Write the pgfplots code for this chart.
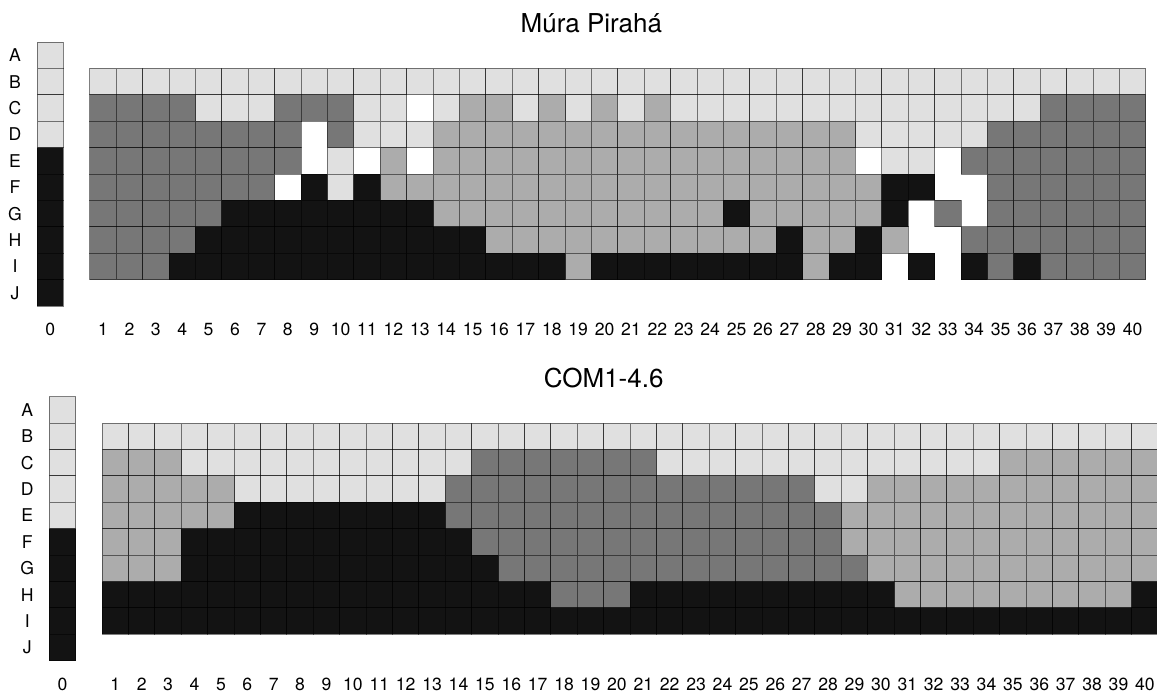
\documentclass[border=0pt]{standalone}
\usepackage{fontspec}
\setmainfont{TeX Gyre Heros}
\usepackage{pgfplots}
\pgfplotsset{compat=1.18}
\definecolor{cL}{RGB}{224,224,224}
\definecolor{cM}{RGB}{172,172,172}
\definecolor{cD}{RGB}{119,119,119}
\definecolor{cK}{RGB}{19,19,19}
\pgfplotsset{
  every axis title/.style={at={(0.5,1)}, anchor=base, yshift=4.6pt, font=\fontsize{13pt}{15pt}\selectfont},
  cellgrid/.style={
    scale only axis, width=554.4pt, height=132pt,
    xmin=-1.5, xmax=40.5, ymin=0.5, ymax=10.5,
    axis line style={draw=none}, major tick length=0pt,
    xtick={-1,1,2,...,40},
    xticklabels={0,1,2,3,4,5,6,7,8,9,10,11,12,13,14,15,16,17,18,19,20,21,22,23,24,25,26,27,28,29,30,31,32,33,34,35,36,37,38,39,40},
    ytick={1,2,3,4,5,6,7,8,9,10},
    yticklabels={J,I,H,G,F,E,D,C,B,A},
    xticklabel style={anchor=center, yshift=-11.75pt},
    yticklabel style={anchor=center, xshift=-11pt},
    tick label style={font=\fontsize{8.8pt}{10pt}\selectfont},
    /pgf/number format/assume math mode=true,
    clip=false,
  },
  cell/.style={only marks, mark=square*, mark size=6.6pt,
    mark options={fill=#1, draw=black, draw opacity=0.5, line width=0.5pt}},
}
\begin{document}
\begin{tikzpicture}
% ================= top panel: Múra Pirahá =================
% rows: A=10, B=9, C=8, D=7, E=6, F=5, G=4, H=3, I=2, J=1; column 0 drawn at x=-1; white cells are empty
\begin{axis}[cellgrid, at={(18.5pt,193.5pt)}, anchor=south west, title={Múra Pirahá}]
% light grey
\addplot[cell=cL] coordinates {
(-1,10) (-1,9) (-1,8) (-1,7)
(1,9) (2,9) (3,9) (4,9) (5,9) (6,9) (7,9) (8,9) (9,9) (10,9) (11,9) (12,9) (13,9) (14,9) (15,9) (16,9) (17,9) (18,9) (19,9) (20,9)
(21,9) (22,9) (23,9) (24,9) (25,9) (26,9) (27,9) (28,9) (29,9) (30,9) (31,9) (32,9) (33,9) (34,9) (35,9) (36,9) (37,9) (38,9) (39,9) (40,9)
(5,8) (6,8) (7,8) (11,8) (12,8) (14,8) (17,8) (19,8) (21,8) (23,8) (24,8) (25,8) (26,8) (27,8) (28,8) (29,8) (30,8) (31,8) (32,8) (33,8) (34,8) (35,8) (36,8)
(11,7) (12,7) (13,7) (30,7) (31,7) (32,7) (33,7) (34,7)
(10,6) (31,6) (32,6)
(10,5)
};
% medium grey
\addplot[cell=cM] coordinates {
(15,8) (16,8) (18,8) (20,8) (22,8)
(14,7) (15,7) (16,7) (17,7) (18,7) (19,7) (20,7) (21,7) (22,7) (23,7) (24,7) (25,7) (26,7) (27,7) (28,7) (29,7)
(12,6) (14,6) (15,6) (16,6) (17,6) (18,6) (19,6) (20,6) (21,6) (22,6) (23,6) (24,6) (25,6) (26,6) (27,6) (28,6) (29,6)
(12,5) (13,5) (14,5) (15,5) (16,5) (17,5) (18,5) (19,5) (20,5) (21,5) (22,5) (23,5) (24,5) (25,5) (26,5) (27,5) (28,5) (29,5) (30,5)
(14,4) (15,4) (16,4) (17,4) (18,4) (19,4) (20,4) (21,4) (22,4) (23,4) (24,4) (26,4) (27,4) (28,4) (29,4) (30,4)
(16,3) (17,3) (18,3) (19,3) (20,3) (21,3) (22,3) (23,3) (24,3) (25,3) (26,3) (28,3) (29,3) (31,3)
(19,2) (28,2)
};
% dark grey
\addplot[cell=cD] coordinates {
(1,8) (2,8) (3,8) (4,8) (8,8) (9,8) (10,8) (37,8) (38,8) (39,8) (40,8)
(1,7) (2,7) (3,7) (4,7) (5,7) (6,7) (7,7) (8,7) (10,7) (35,7) (36,7) (37,7) (38,7) (39,7) (40,7)
(1,6) (2,6) (3,6) (4,6) (5,6) (6,6) (7,6) (8,6) (34,6) (35,6) (36,6) (37,6) (38,6) (39,6) (40,6)
(1,5) (2,5) (3,5) (4,5) (5,5) (6,5) (7,5) (35,5) (36,5) (37,5) (38,5) (39,5) (40,5)
(1,4) (2,4) (3,4) (4,4) (5,4) (33,4) (35,4) (36,4) (37,4) (38,4) (39,4) (40,4)
(1,3) (2,3) (3,3) (4,3) (34,3) (35,3) (36,3) (37,3) (38,3) (39,3) (40,3)
(1,2) (2,2) (3,2) (35,2) (37,2) (38,2) (39,2) (40,2)
};
% black
\addplot[cell=cK] coordinates {
(-1,6) (-1,5) (-1,4) (-1,3) (-1,2) (-1,1)
(9,5) (11,5) (31,5) (32,5)
(6,4) (7,4) (8,4) (9,4) (10,4) (11,4) (12,4) (13,4) (25,4) (31,4)
(5,3) (6,3) (7,3) (8,3) (9,3) (10,3) (11,3) (12,3) (13,3) (14,3) (15,3) (27,3) (30,3)
(4,2) (5,2) (6,2) (7,2) (8,2) (9,2) (10,2) (11,2) (12,2) (13,2) (14,2) (15,2) (16,2) (17,2) (18,2)
(20,2) (21,2) (22,2) (23,2) (24,2) (25,2) (26,2) (27,2) (29,2) (30,2) (32,2) (34,2) (36,2)
};
\end{axis}
% ================= bottom panel: COM1-4.6 =================
\begin{axis}[cellgrid, at={(24.65pt,16.15pt)}, anchor=south west, title={COM1-4.6}]
\addplot[cell=cL] coordinates {
(-1,10) (-1,9) (-1,8) (-1,7) (-1,6)
(1,9) (2,9) (3,9) (4,9) (5,9) (6,9) (7,9) (8,9) (9,9) (10,9) (11,9) (12,9) (13,9) (14,9) (15,9) (16,9) (17,9) (18,9) (19,9) (20,9)
(21,9) (22,9) (23,9) (24,9) (25,9) (26,9) (27,9) (28,9) (29,9) (30,9) (31,9) (32,9) (33,9) (34,9) (35,9) (36,9) (37,9) (38,9) (39,9) (40,9)
(4,8) (5,8) (6,8) (7,8) (8,8) (9,8) (10,8) (11,8) (12,8) (13,8) (14,8)
(22,8) (23,8) (24,8) (25,8) (26,8) (27,8) (28,8) (29,8) (30,8) (31,8) (32,8) (33,8) (34,8)
(6,7) (7,7) (8,7) (9,7) (10,7) (11,7) (12,7) (13,7) (28,7) (29,7)
};
\addplot[cell=cM] coordinates {
(1,8) (2,8) (3,8) (35,8) (36,8) (37,8) (38,8) (39,8) (40,8)
(1,7) (2,7) (3,7) (4,7) (5,7) (30,7) (31,7) (32,7) (33,7) (34,7) (35,7) (36,7) (37,7) (38,7) (39,7) (40,7)
(1,6) (2,6) (3,6) (4,6) (5,6) (29,6) (30,6) (31,6) (32,6) (33,6) (34,6) (35,6) (36,6) (37,6) (38,6) (39,6) (40,6)
(1,5) (2,5) (3,5) (29,5) (30,5) (31,5) (32,5) (33,5) (34,5) (35,5) (36,5) (37,5) (38,5) (39,5) (40,5)
(1,4) (2,4) (3,4) (30,4) (31,4) (32,4) (33,4) (34,4) (35,4) (36,4) (37,4) (38,4) (39,4) (40,4)
(31,3) (32,3) (33,3) (34,3) (35,3) (36,3) (37,3) (38,3) (39,3)
};
\addplot[cell=cD] coordinates {
(15,8) (16,8) (17,8) (18,8) (19,8) (20,8) (21,8)
(14,7) (15,7) (16,7) (17,7) (18,7) (19,7) (20,7) (21,7) (22,7) (23,7) (24,7) (25,7) (26,7) (27,7)
(14,6) (15,6) (16,6) (17,6) (18,6) (19,6) (20,6) (21,6) (22,6) (23,6) (24,6) (25,6) (26,6) (27,6) (28,6)
(15,5) (16,5) (17,5) (18,5) (19,5) (20,5) (21,5) (22,5) (23,5) (24,5) (25,5) (26,5) (27,5) (28,5)
(16,4) (17,4) (18,4) (19,4) (20,4) (21,4) (22,4) (23,4) (24,4) (25,4) (26,4) (27,4) (28,4) (29,4)
(18,3) (19,3) (20,3)
};
\addplot[cell=cK] coordinates {
(-1,5) (-1,4) (-1,3) (-1,2) (-1,1)
(6,6) (7,6) (8,6) (9,6) (10,6) (11,6) (12,6) (13,6)
(4,5) (5,5) (6,5) (7,5) (8,5) (9,5) (10,5) (11,5) (12,5) (13,5) (14,5)
(4,4) (5,4) (6,4) (7,4) (8,4) (9,4) (10,4) (11,4) (12,4) (13,4) (14,4) (15,4)
(1,3) (2,3) (3,3) (4,3) (5,3) (6,3) (7,3) (8,3) (9,3) (10,3) (11,3) (12,3) (13,3) (14,3) (15,3) (16,3) (17,3)
(21,3) (22,3) (23,3) (24,3) (25,3) (26,3) (27,3) (28,3) (29,3) (30,3) (40,3)
(1,2) (2,2) (3,2) (4,2) (5,2) (6,2) (7,2) (8,2) (9,2) (10,2) (11,2) (12,2) (13,2) (14,2) (15,2) (16,2) (17,2) (18,2) (19,2) (20,2)
(21,2) (22,2) (23,2) (24,2) (25,2) (26,2) (27,2) (28,2) (29,2) (30,2) (31,2) (32,2) (33,2) (34,2) (35,2) (36,2) (37,2) (38,2) (39,2) (40,2)
};
\end{axis}
\pgfresetboundingbox
\path[use as bounding box] (0,0) rectangle (578.5pt,346.5pt);
\end{tikzpicture}
\end{document}
